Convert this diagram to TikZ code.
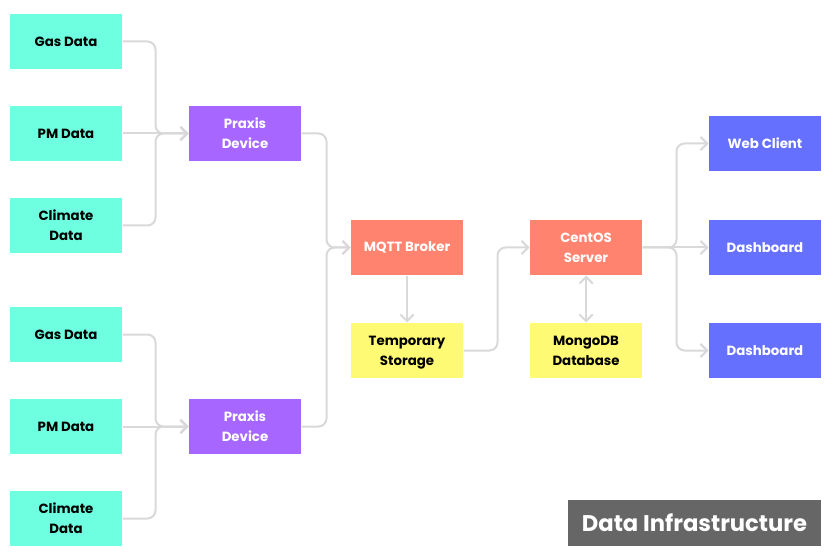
\documentclass[tikz,border=0pt]{standalone}
\usepackage{fontspec}
\setmainfont{Poppins}
\usetikzlibrary{arrows.meta}

\definecolor{sensorcol}{RGB}{110,255,225}
\definecolor{devicecol}{RGB}{166,102,255}
\definecolor{servercol}{RGB}{255,131,110}
\definecolor{storecol}{RGB}{255,250,115}
\definecolor{clientcol}{RGB}{102,112,255}
\definecolor{titlecol}{RGB}{102,102,102}
\definecolor{linkcol}{RGB}{217,217,217}

\tikzset{every picture/.style={line width=0.75pt}}
\tikzset{
  blk/.style={minimum width=84pt, minimum height=41.25pt, inner sep=0pt, align=center,
    font=\bfseries\fontsize{10}{15}\selectfont},
  sensor/.style={blk, fill=sensorcol, text=black},
  device/.style={blk, fill=devicecol, text=white},
  server/.style={blk, fill=servercol, text=white},
  store/.style={blk, fill=storecol, text=black},
  client/.style={blk, fill=clientcol, text=white},
  link/.style={draw=linkcol, line width=1.5pt, rounded corners=6pt,
    -{Straight Barb[length=5pt,width=10pt]}},
}

\begin{document}
\begin{tikzpicture}[x=0.75pt,y=0.75pt,yscale=-1]
  \useasboundingbox (0,0) rectangle (837,559);

  % Sensor boxes, upper group
  \node[sensor] (gasA) at (66,41.5) {Gas Data};
  \node[sensor] (pmA) at (66,133.5) {PM Data};
  \node[sensor] (climA) at (66,225.5) {Climate\\Data};
  % Sensor boxes, lower group
  \node[sensor] (gasB) at (66,334.5) {Gas Data};
  \node[sensor] (pmB) at (66,426.5) {PM Data};
  \node[sensor] (climB) at (66,518.5) {Climate\\Data};

  % Devices
  \node[device] (praxA) at (245,133.5) {Praxis\\Device};
  \node[device] (praxB) at (245,426.5) {Praxis\\Device};

  % Broker and server
  \node[server] (mqtt) at (407,247.5) {MQTT Broker};
  \node[store] (temp) at (407,350.5) {Temporary\\\smash{Storage}};
  \node[server] (centos) at (586,247.5) {CentOS\\Server};
  \node[store] (mongo) at (586,350.5) {MongoDB\\Database};

  % Clients
  \node[client] (web) at (765,143.5) {Web Client};
  \node[client] (dashA) at (765,247.5) {Dashboard};
  \node[client] (dashB) at (765,350.5) {Dashboard};

  % Title
  \node[fill=titlecol, text=white, minimum width=189.75pt, minimum height=34.5pt, inner sep=0pt,
    font=\bfseries\fontsize{17}{20}\selectfont] (title) at (694.5,523) {Data Infrastructure};

  % Connectors
  \draw[link] (gasA.east) -- ++(33,0) |- (praxA.west);
  \draw[link] (pmA) -- (praxA);
  \draw[link] (climA.east) -- ++(33,0) |- (praxA.west);
  \draw[link] (gasB.east) -- ++(33,0) |- (praxB.west);
  \draw[link] (pmB) -- (praxB);
  \draw[link] (climB.east) -- ++(33,0) |- (praxB.west);

  \draw[link] (praxA.east) -- ++(25,0) |- (mqtt.west);
  \draw[link] (praxB.east) -- ++(25,0) |- (mqtt.west);
  \draw[link] (mqtt) -- (temp);
  \draw[link] (temp.east) -- ++(34,0) |- (centos.west);
  \draw[link, {Straight Barb[length=5pt,width=10pt]}-{Straight Barb[length=5pt,width=10pt]}] (centos) -- (mongo);

  \draw[link] (centos.east) -- ++(34,0) |- (web.west);
  \draw[link] (centos) -- (dashA);
  \draw[link] (centos.east) -- ++(34,0) |- (dashB.west);
\end{tikzpicture}
\end{document}
